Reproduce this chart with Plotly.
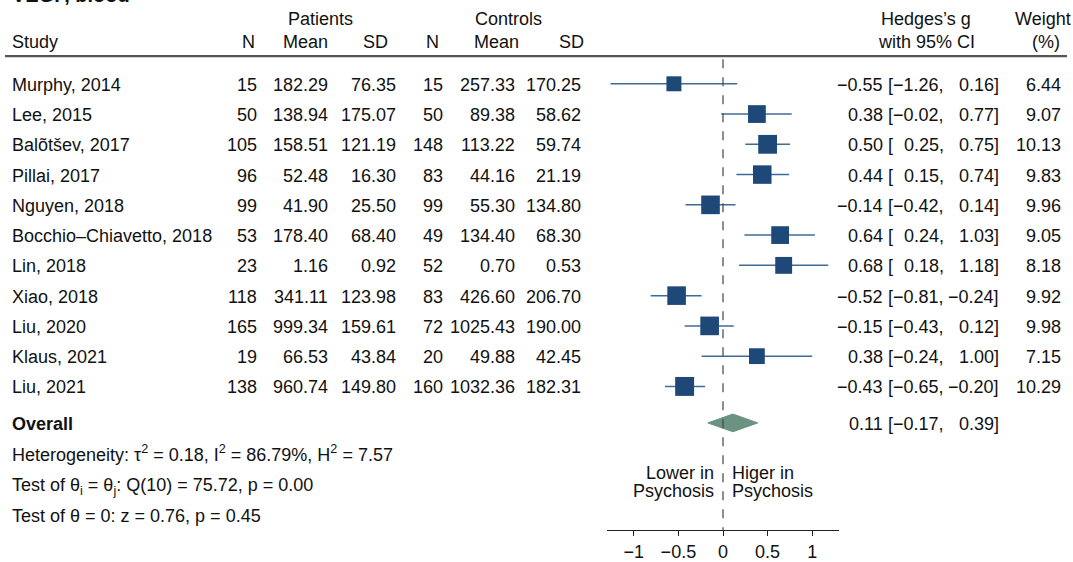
import plotly.graph_objects as go

# ---- data ----
studies = ["Murphy, 2014", "Lee, 2015", "Balõtšev, 2017", "Pillai, 2017", "Nguyen, 2018",
           "Bocchio–Chiavetto, 2018", "Lin, 2018", "Xiao, 2018", "Liu, 2020", "Klaus, 2021", "Liu, 2021"]
pat_n = [15, 50, 105, 96, 99, 53, 23, 118, 165, 19, 138]
pat_mean = [182.29, 138.94, 158.51, 52.48, 41.90, 178.40, 1.16, 341.11, 999.34, 66.53, 960.74]
pat_sd = [76.35, 175.07, 121.19, 16.30, 25.50, 68.40, 0.92, 123.98, 159.61, 43.84, 149.80]
ctl_n = [15, 50, 148, 83, 99, 49, 52, 83, 72, 20, 160]
ctl_mean = [257.33, 89.38, 113.22, 44.16, 55.30, 134.40, 0.70, 426.60, 1025.43, 49.88, 1032.36]
ctl_sd = [170.25, 58.62, 59.74, 21.19, 134.80, 68.30, 0.53, 206.70, 190.00, 42.45, 182.31]
g = [-0.55, 0.38, 0.50, 0.44, -0.14, 0.64, 0.68, -0.52, -0.15, 0.38, -0.43]
g_lo = [-1.26, -0.02, 0.25, 0.15, -0.42, 0.24, 0.18, -0.81, -0.43, -0.24, -0.65]
g_hi = [0.16, 0.77, 0.75, 0.74, 0.14, 1.03, 1.18, -0.24, 0.12, 1.00, -0.20]
weight = [6.44, 9.07, 10.13, 9.83, 9.96, 9.05, 8.18, 9.92, 9.98, 7.15, 10.29]

overall_g = 0.11
overall_lo = -0.17
overall_hi = 0.39

tick_vals = [-1, -0.5, 0, 0.5, 1]
tick_labels = ["−1", "−0.5", "0", "0.5", "1"]

# ---- layout constants (pixels) ----
W, H = 1073, 562
AXIS_Y = 538          # pixel row of the x-axis line
ROW0, STEP = 85, 30.7
OVERALL_Y = 429
FONT = "Liberation Sans, Arial, Helvetica, sans-serif"
FS = 18
TXT = "#111111"
SQ_COLOR = "#1d4877"
CI_COLOR = "#3f6b99"
DIAMOND = "#6c9282"
TY = 1  # small downward nudge for text baselines

# right edges of the ES / CI / weight text columns
X_ES, X_BR, X_LO, X_HI, X_WT = 885, 895, 946, 1001, 1063

rows = [ROW0 + i * STEP for i in range(len(studies))]


def fmt(v):
    s = f"{v:.2f}"
    return s.replace("-", "−")


fig = go.Figure()

# confidence intervals + weighted squares
fig.add_trace(go.Scatter(
    x=g, y=rows, mode="markers",
    marker=dict(symbol="square", color=SQ_COLOR, opacity=1,
                size=[5.9 * w ** 0.5 for w in weight], line=dict(width=0)),
    error_x=dict(type="data", symmetric=False,
                 array=[h - e for h, e in zip(g_hi, g)],
                 arrayminus=[e - l for e, l in zip(g, g_lo)],
                 color=CI_COLOR, thickness=1.5, width=0),
    hoverinfo="skip", showlegend=False,
))

# overall diamond
half_h = 9
fig.add_trace(go.Scatter(
    x=[overall_lo, overall_g, overall_hi, overall_g, overall_lo],
    y=[OVERALL_Y, OVERALL_Y - half_h, OVERALL_Y, OVERALL_Y + half_h, OVERALL_Y],
    mode="lines", fill="toself", fillcolor=DIAMOND, line=dict(color=DIAMOND, width=1),
    hoverinfo="skip", showlegend=False,
))

shapes = [
    # null line
    dict(type="line", xref="x", yref="y", x0=0, x1=0, y0=60, y1=AXIS_Y,
         line=dict(color="#444444", width=1.2, dash="dash")),
    # header rule
    dict(type="line", xref="paper", yref="y", x0=5 / W, x1=1067 / W, y0=57, y1=57,
         line=dict(color="#555555", width=2.2)),
]

ann = []


def text(px, py, s, anchor="left", size=FS, color=TXT):
    ann.append(dict(xref="paper", yref="y", x=px / W, y=py + TY, text=s, showarrow=False,
                    xanchor=anchor, yanchor="middle",
                    font=dict(family=FONT, size=size, color=color)))


def ci_text(py, est, lo, hi):
    text(X_ES, py, fmt(est), "right")
    text(X_BR, py, "[", "right")
    text(X_LO, py, fmt(lo) + ",", "right")
    text(X_HI, py, fmt(hi) + "]", "right")


# title (partly above the page)
ann.append(dict(xref="paper", yref="paper", x=10 / W, y=1 + 5 / H, text="<b>VEGF, blood</b>",
                showarrow=False, xanchor="left", yanchor="middle",
                font=dict(family=FONT, size=20, color=TXT)))

# column headers
text(320, 18, "Patients", "center")
text(508, 18, "Controls", "center")
text(926, 18, "Hedges’s g", "center")
text(1043, 18, "Weight", "center")
text(10, 42, "Study")
text(248, 42, "N", "center")
text(305, 42, "Mean", "center")
text(375, 42, "SD", "center")
text(432, 42, "N", "center")
text(496, 42, "Mean", "center")
text(571, 42, "SD", "center")
text(926, 42, "with 95% CI", "center")
text(1046, 42, "(%)", "center")

# study rows
for i, y in enumerate(rows):
    text(10, y, studies[i])
    text(259, y, str(pat_n[i]), "right")
    text(330, y, f"{pat_mean[i]:.2f}", "right")
    text(398, y, f"{pat_sd[i]:.2f}", "right")
    text(445, y, str(ctl_n[i]), "right")
    text(517, y, f"{ctl_mean[i]:.2f}", "right")
    text(583, y, f"{ctl_sd[i]:.2f}", "right")
    ci_text(y, g[i], g_lo[i], g_hi[i])
    text(X_WT, y, f"{weight[i]:.2f}", "right")

# overall row
text(10, OVERALL_Y, "<b>Overall</b>")
ci_text(OVERALL_Y, overall_g, overall_lo, overall_hi)

# heterogeneity and tests
text(10, 459, "Heterogeneity: τ<sup>2</sup> = 0.18, I<sup>2</sup> = 86.79%, H<sup>2</sup> = 7.57")
text(10, 493, "Test of θ<sub>i</sub> = θ<sub>j</sub>: Q(10) = 75.72, p = 0.00")
text(10, 522, "Test of θ = 0: z = 0.76, p = 0.45")

# direction labels
text(716, 479, "Lower in", "right")
text(716, 497, "Psychosis", "right")
text(730, 479, "Higer in", "left")
text(730, 497, "Psychosis", "left")

fig.update_layout(
    width=W, height=H, margin=dict(l=0, r=0, t=0, b=0),
    paper_bgcolor="white", plot_bgcolor="white",
    showlegend=False, shapes=shapes, annotations=ann,
    xaxis=dict(domain=[607 / W, 839 / W], range=[-1.3, 1.3],
               tickvals=tick_vals, ticktext=tick_labels,
               showline=True, linecolor="#222222", linewidth=1,
               ticks="outside", ticklen=5, tickcolor="#222222",
               showgrid=False, zeroline=False, fixedrange=True,
               tickfont=dict(family=FONT, size=FS, color=TXT)),
    yaxis=dict(domain=[(H - AXIS_Y) / H, 1], range=[AXIS_Y, 0], visible=False,
               showgrid=False, zeroline=False, fixedrange=True),
)

fig.write_html("out.html")
